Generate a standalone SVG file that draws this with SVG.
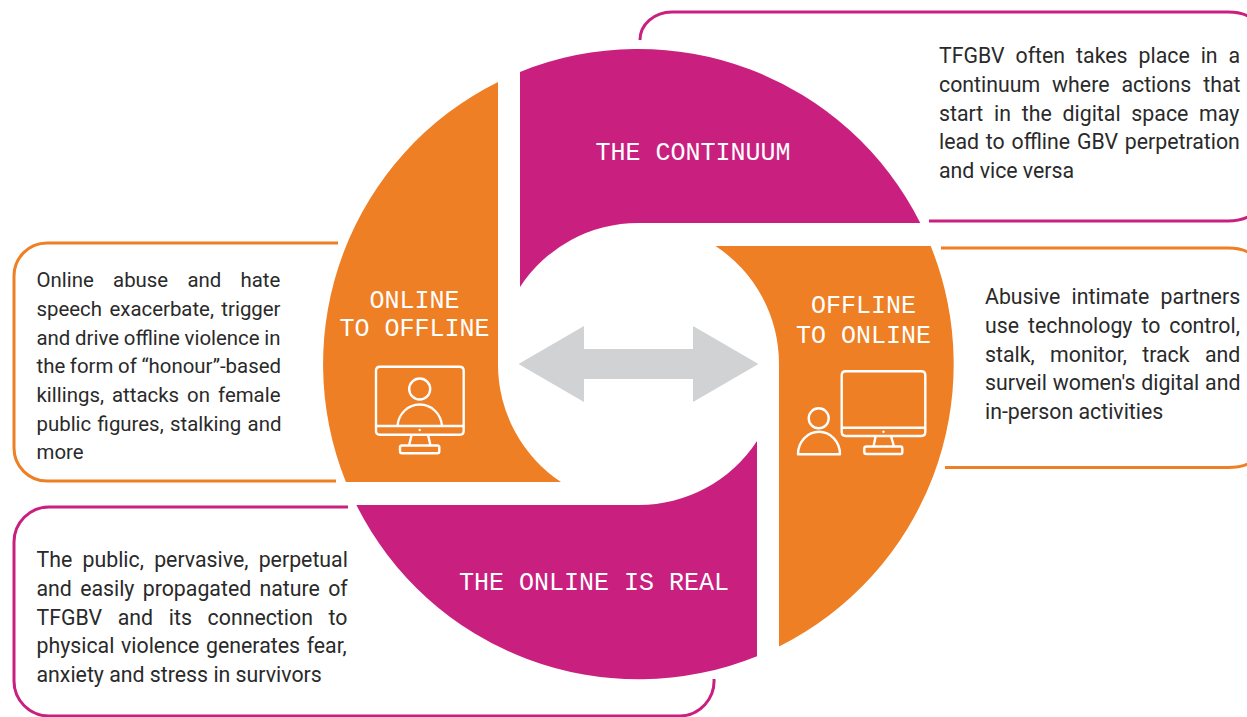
<svg xmlns="http://www.w3.org/2000/svg" width="1247" height="717" viewBox="0 0 1247 717">
<style>
.m{fill:#c92080}.o{fill:#ef7f24}
.cm,.co{fill:none;stroke-width:3}.cm{stroke:#c92080}.co{stroke:#ef7f24}
.l{font-family:"Liberation Mono",monospace;font-size:25px;fill:#fff;text-anchor:middle}
.t{font-family:Roboto,"Liberation Sans",sans-serif;font-size:21.3px;fill:#2a2a2a}
.s{font-size:20.4px}
.i{fill:none;stroke:#fff;stroke-width:2.4;stroke-linejoin:round}
</style>
<rect width="1247" height="717" fill="#fff"/>
<g id="continuum">
<path class="m" d="M520 72A315.300 315.300 0 0 1 920.300 223H638.400A141 141 0 0 0 520 287Z"/>
<text class="l" x="693" y="160">THE CONTINUUM</text>
</g>
<g id="offline-to-online">
<path class="o" d="M715.500 246H930.700A315.300 315.300 0 0 1 779 646.400V364.200A141 141 0 0 0 715.500 246Z"/>
<text class="l" x="863.500" y="313">OFFLINE</text>
<text class="l" x="863.500" y="342.500">TO ONLINE</text>
<path class="i" d="M845.700 371.300H921.300Q925.300 371.300 925.300 375.300V432Q925.300 436 921.300 436H845.700Q841.700 436 841.700 432V375.300Q841.700 371.300 845.700 371.300ZM841.700 427.700H925.300M875.700 436L873.500 446.500M891 436L894 446.500M866.500 446.500H900.500Q902.300 446.500 902.300 448.500V452Q902.300 454 900.500 454H866.500Q864.300 454 864.300 452V448.500Q864.300 446.500 866.500 446.500Z"/>
<circle cx="883.500" cy="431.700" r="1.200" fill="#fff"/>
<circle class="i" cx="818.700" cy="418.300" r="10"/>
<path class="i" d="M798 454.300A21 22.500 0 0 1 840 454.300Z"/>
</g>
<g id="online-is-real">
<path class="m" d="M757 441A141 141 0 0 1 638.400 505H356.400A315.300 315.300 0 0 0 757 656.200Z"/>
<text class="l" x="594" y="590">THE ONLINE IS REAL</text>
</g>
<g id="online-to-offline">
<path class="o" d="M498 81.900V364.200A141 141 0 0 0 561 482H345.900A315.300 315.300 0 0 1 498 81.900Z"/>
<text class="l" x="414.500" y="307.500">ONLINE</text>
<text class="l" x="414.500" y="336">TO OFFLINE</text>
<path class="i" d="M380 366.700H459.700Q463.700 366.700 463.700 370.700V430.700Q463.700 434.700 459.700 434.700H380Q376 434.700 376 430.700V370.700Q376 366.700 380 366.700ZM376 426H463.700M411.700 434.700L409 445.500M428 434.700L430.500 445.500M402 445.500H437.300Q439.300 445.500 439.300 447.500V451.300Q439.300 453.300 437.300 453.300H402Q400 453.300 400 451.300V447.500Q400 445.500 402 445.500Z"/>
<circle cx="419.700" cy="430" r="1.200" fill="#fff"/>
<circle class="i" cx="419.700" cy="389" r="10.500"/>
<path class="i" d="M397.500 426A22.300 23 0 0 1 442 426"/>
</g>
<g id="connectors">
<path fill="#d1d2d4" d="M518.500 364L584 326V349H693V326L758.500 364L693 402V379H584V402Z"/>
</g>
<g id="note-continuum">
<path class="cm" d="M640 40A32 28 0 0 1 672 12H1228Q1240 12 1248 16M929 221H1228Q1240 221 1248 217"/>
<text class="t"><tspan x="939" y="63" word-spacing="5.700">TFGBV often takes place in a</tspan><tspan x="939" y="92" word-spacing="6.700">continuum where actions that</tspan><tspan x="939" y="120.500" word-spacing="5.500">start in the digital space may</tspan><tspan x="939" y="149" word-spacing="1.500">lead to offline GBV perpetration</tspan><tspan x="939" y="178">and vice versa</tspan></text>
</g>
<g id="note-offline">
<path class="co" d="M941 248H1228Q1240 248 1248 252M945 467.500H1228Q1240 467.500 1248 464"/>
<text class="t"><tspan x="985" y="304" word-spacing="6.100">Abusive intimate partners</tspan><tspan x="985" y="333" word-spacing="3.700">use technology to control,</tspan><tspan x="985" y="361.500" word-spacing="10.100">stalk, monitor, track and</tspan><tspan x="985" y="390" word-spacing="0.500">surveil women's digital and</tspan><tspan x="985" y="419">in-person activities</tspan></text>
</g>
<g id="note-real">
<path class="cm" d="M348 507H49A35 35 0 0 0 14 542V681A35 35 0 0 0 49 716H680A35 35 0 0 0 714 679"/>
<text class="t"><tspan x="36.500" y="567" word-spacing="5">The public, pervasive, perpetual</tspan><tspan x="36.500" y="596" word-spacing="3">and easily propagated nature of</tspan><tspan x="36.500" y="624.500" word-spacing="10.400">TFGBV and its connection to</tspan><tspan x="36.500" y="653" word-spacing="1.400">physical violence generates fear,</tspan><tspan x="36.500" y="682">anxiety and stress in survivors</tspan></text>
</g>
<g id="note-online">
<path class="co" d="M338 243H47A33 33 0 0 0 14 276V448A33 33 0 0 0 47 481H336"/>
<text class="t s"><tspan x="36.500" y="287" word-spacing="14.200">Online abuse and hate</tspan><tspan x="36.500" y="316" word-spacing="2.400">speech exacerbate, trigger</tspan><tspan x="36.500" y="344.500" word-spacing="-0.300">and drive offline violence in</tspan><tspan x="36.500" y="373" word-spacing="-0.400">the form of “honour”-based</tspan><tspan x="36.500" y="402" word-spacing="3">killings, attacks on female</tspan><tspan x="36.500" y="430.500" word-spacing="1.300">public figures, stalking and</tspan><tspan x="36.500" y="459">more</tspan></text>
</g>
</svg>
